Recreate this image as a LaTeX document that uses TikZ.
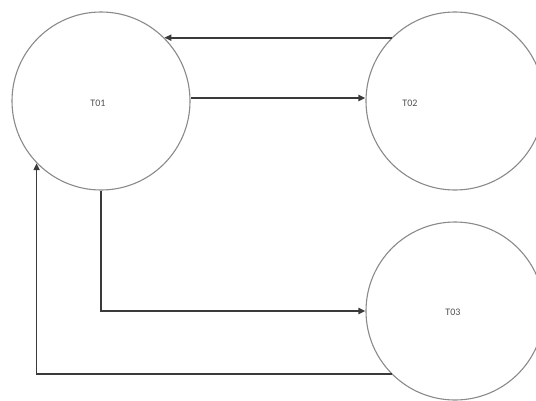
\documentclass[tikz,border=0pt]{standalone}
\usepackage{fontspec}
\setmainfont{Carlito}
\usetikzlibrary{arrows.meta}
\definecolor{circgray}{HTML}{8A8A8A}
\definecolor{linegray}{HTML}{3A3A3A}
\definecolor{txtgray}{HTML}{505050}
\begin{document}
\begin{tikzpicture}[x=1pt,y=-1pt,
  state/.style={circle,draw=circgray,line width=1.1pt,minimum size=178pt,inner sep=0pt},
  lbl/.style={font=\fontsize{10}{11}\selectfont,text=txtgray,inner sep=0pt},
  conn/.style={draw=linegray,line width=1.8pt,-{Triangle[length=7pt,width=6pt]}}]
\useasboundingbox (0,0) rectangle (536,400);
\clip (0,0) rectangle (536,400);
\fill[white] (0,0) rectangle (536,400);
\node[state] (T01) at (101,101) {};
\node[state] (T02) at (455,101) {};
\node[state] (T03) at (455,311) {};
\node[lbl] (L1) at (98,103) {T01};
\node[lbl] (L2) at (410,103) {T02};
\node[lbl] (L3) at (453,312) {T03};
\draw[conn] (T02.135) -- (T01.45);
\draw[conn] ([yshift=3pt]T01.east) -- ([yshift=3pt]T02.west);
\draw[conn] (T01.south) |- (T03.west);
\draw[conn] (T03.225) -| (T01.224);
\end{tikzpicture}
\end{document}
